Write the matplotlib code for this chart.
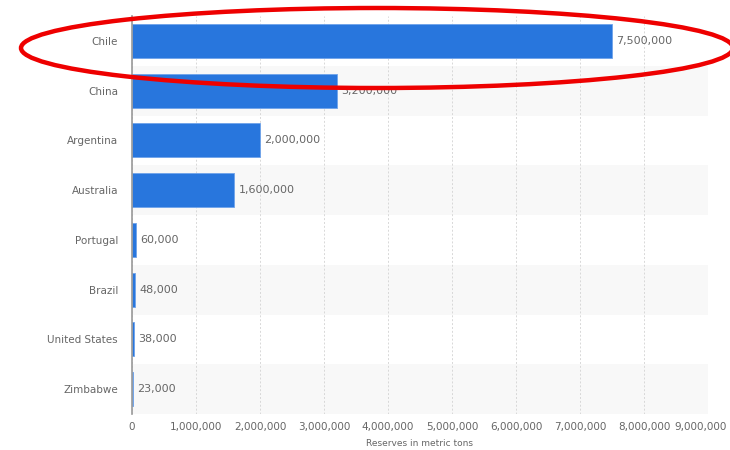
import matplotlib.pyplot as plt
from matplotlib.patches import Ellipse
from matplotlib.ticker import MultipleLocator

countries = ["Chile", "China", "Argentina", "Australia", "Portugal",
             "Brazil", "United States", "Zimbabwe"]
reserves = [7500000, 3200000, 2000000, 1600000, 60000, 48000, 38000, 23000]
x_ticks = [0, 1000000, 2000000, 3000000, 4000000, 5000000,
           6000000, 7000000, 8000000, 9000000]

bar_color = "#2876dd"
text_color = "#666666"

fig = plt.figure(figsize=(7.3, 4.5), dpi=100)
ax = fig.add_axes([0.1808, 0.08, 0.789, 0.8844])

ypos = list(range(len(countries)))
# alternating row bands
for i in ypos:
    if i % 2 == 1:
        ax.axhspan(i - 0.5, i + 0.5, color="#f8f8f8", zorder=0, lw=0)

ax.barh(ypos, reserves, height=0.68, color=bar_color,
        edgecolor="#6fa3ea", linewidth=0.6, zorder=3)

for y, v in zip(ypos, reserves):
    ax.annotate(f"{v:,}", (v, y), xytext=(3, 0), textcoords="offset points",
                va="center", ha="left", fontsize=8, color=text_color, zorder=4)

ax.set_xlim(0, 9000000)
ax.set_ylim(len(countries) - 0.5, -0.5)
ax.set_yticks(ypos)
ax.set_yticklabels(countries)
# the last label is drawn by hand, nudged left so it stays inside the picture
ax.set_xticks(x_ticks)
ax.set_xticklabels([f"{t:,}" for t in x_ticks[:-1]] + [""])
ax.annotate(f"{x_ticks[-1]:,}", (x_ticks[-1], 0), xycoords=("data", "axes fraction"),
            xytext=(-5, -6), textcoords="offset points", ha="center", va="top",
            fontsize=7.5, color=text_color, annotation_clip=False)
ax.tick_params(axis="both", length=0, labelsize=7.5, labelcolor=text_color)
ax.tick_params(axis="y", pad=10)
ax.tick_params(axis="x", pad=6)

ax.grid(axis="x", color="#d8d8d8", linestyle=(0, (2, 2)), linewidth=0.7, zorder=1)
ax.set_axisbelow(True)
for side in ["top", "right", "bottom"]:
    ax.spines[side].set_visible(False)
ax.spines["left"].set_color("#999999")
ax.spines["left"].set_linewidth(1.2)
ax.spines["left"].set_zorder(5)

ax.set_xlabel("Reserves in metric tons", fontsize=6.5, color=text_color, labelpad=5)

# red highlight ring drawn over the chart
ring = Ellipse((377 / 730, 1 - 48 / 450), 712 / 730, 80 / 450,
               transform=fig.transFigure, fill=False, edgecolor="#ee0000",
               linewidth=3.2, zorder=10, clip_on=False)
fig.patches.append(ring)

fig.savefig("out.png", dpi=100)
